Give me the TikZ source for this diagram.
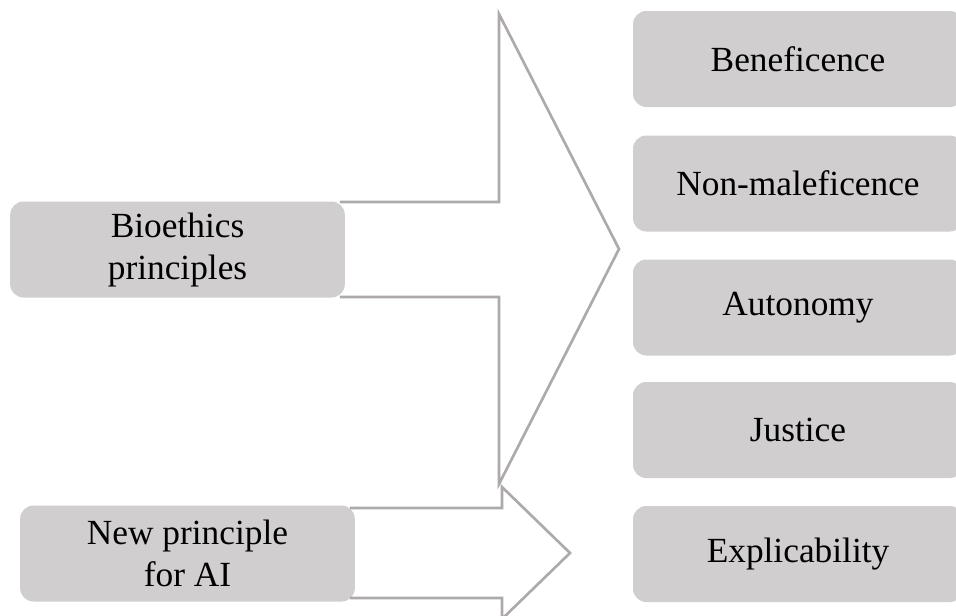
\documentclass[tikz,border=0pt]{standalone}
\usepackage{fontspec}
\setmainfont{Liberation Serif}
\definecolor{boxgray}{HTML}{D0CECE}
\definecolor{arrowgray}{HTML}{AEAAAA}
\begin{document}
\begin{tikzpicture}[x=0.75pt,y=-0.75pt,
  pbox/.style={fill=boxgray,draw=none,rounded corners=10pt,inner sep=0pt,
    minimum height=72pt,align=center,font=\fontsize{26.5}{31.5}\selectfont},
  rbox/.style={pbox,minimum width=247.5pt},
  lbox/.style={pbox,minimum width=251pt},
  arrowline/.style={draw=arrowgray,line width=2pt,line join=miter}]
\useasboundingbox (0,0) rectangle (956,615);
\clip (0,0) rectangle (956,615);
% left boxes
\node[lbox] (bio) at (177.5,249.5) {Bioethics\\principles};
\node[lbox] (newp) at (187.5,553.5) {New principle\\for AI};
% block arrows, outlined from the right edge of each left box
\draw[arrowline] ([xshift=-4pt]bio.east |- 0,202) -- (499,202) -- (499,14) -- (619,249)
  -- (499,484) -- (499,297) -- ([xshift=-4pt]bio.east |- 0,297);
\draw[arrowline] ([xshift=-4pt]newp.east |- 0,508) -- (502,508) -- (502,487) -- (570,553)
  -- (502,619) -- (502,598) -- ([xshift=-4pt]newp.east |- 0,598);
% right boxes
\node[rbox] (bene) at (798,59) {Beneficence};
\node[rbox] (nonm) at (798,183.5) {Non-maleficence};
\node[rbox] (auto) at (798,307.5) {Autonomy};
\node[rbox] (just) at (798,430) {Justice};
\node[rbox] (expl) at (798,554) {Explicability};
\end{tikzpicture}
\end{document}
